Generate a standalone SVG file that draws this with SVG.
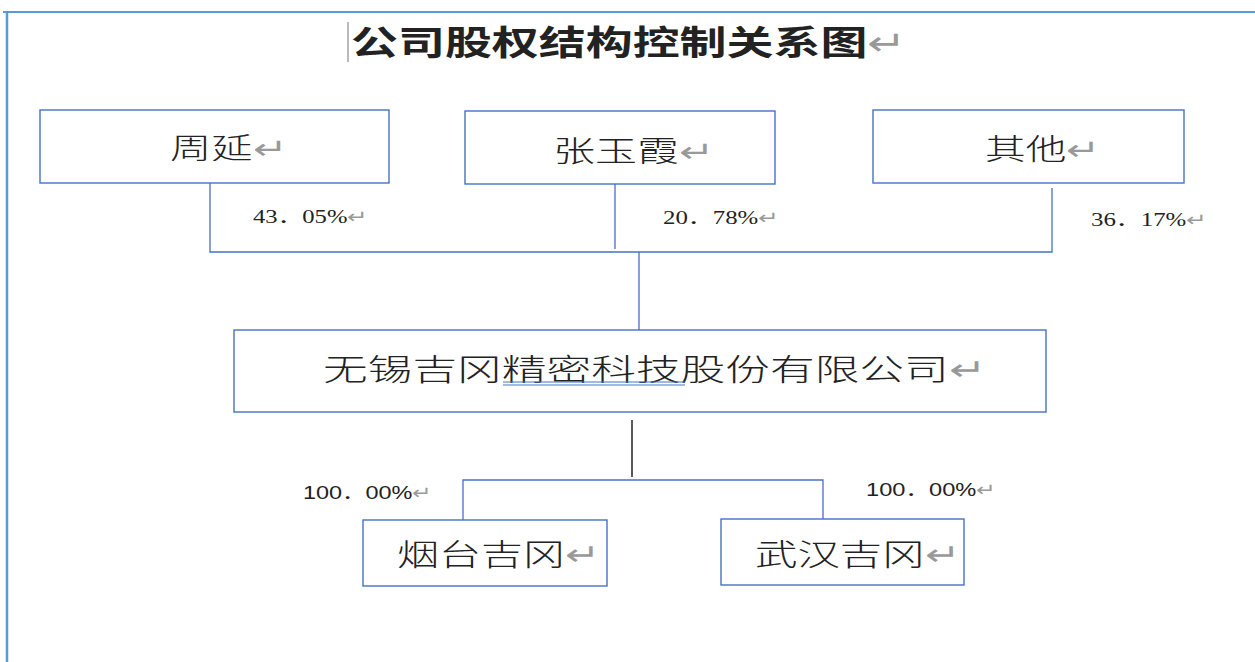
<svg xmlns="http://www.w3.org/2000/svg" width="1255" height="662" viewBox="0 0 1255 662">
<style>
.box{fill:#fff;stroke:#4472C4;stroke-width:1.4}
.ln{fill:none;stroke:#4472C4;stroke-width:1.3}
.cj{font-family:"Noto Sans CJK SC","Noto Sans",sans-serif;fill:#222}
.pc{font-family:"Liberation Serif","Noto Sans CJK SC",serif;fill:#222;font-size:18px}
.pc2{font-family:"Liberation Sans","Noto Sans CJK SC",sans-serif;fill:#222;font-size:18px}
.rt{fill:#999}
</style>
<rect width="1255" height="662" fill="#fff"/>
<g id="frame">
<line x1="3" y1="12" x2="1255" y2="12" stroke="#5B9BD5" stroke-width="2"/>
<line x1="7" y1="12" x2="7" y2="662" stroke="#5B9BD5" stroke-width="2.5"/>
</g>
<g id="title">
<line x1="348" y1="22" x2="348" y2="62" stroke="#777" stroke-width="1"/>
<text class="cj" x="351" y="55" font-size="34" font-weight="700" textLength="555" lengthAdjust="spacingAndGlyphs" fill="#111">公司股权结构控制关系图<tspan class="rt" font-weight="400">↵</tspan></text>
</g>
<g id="connectors">
<polyline class="ln" points="210,183 210,252 1052,252 1052,188"/>
<line class="ln" x1="615" y1="184" x2="615" y2="249"/>
<line class="ln" x1="639" y1="252" x2="639" y2="330"/>
<line x1="632" y1="420" x2="632" y2="477" stroke="#222" stroke-width="1.5"/>
<polyline class="ln" points="463,520 463,480 823,480 823,519"/>
</g>
<g id="labels">
<text class="pc" x="253" y="223" textLength="115" lengthAdjust="spacingAndGlyphs">43．05%<tspan class="rt">↵</tspan></text>
<text class="pc" x="663" y="224" textLength="116" lengthAdjust="spacingAndGlyphs">20．78%<tspan class="rt">↵</tspan></text>
<text class="pc" x="1091" y="226" textLength="116" lengthAdjust="spacingAndGlyphs">36．17%<tspan class="rt">↵</tspan></text>
<text class="pc2" x="303" y="499" textLength="129" lengthAdjust="spacingAndGlyphs">100．00%<tspan class="rt">↵</tspan></text>
<text class="pc2" x="866" y="496" textLength="130" lengthAdjust="spacingAndGlyphs">100．00%<tspan class="rt">↵</tspan></text>
</g>
<g id="node-zhouyan">
<rect class="box" x="40" y="110" width="349" height="73"/>
<text class="cj" x="170" y="159" font-size="29" font-weight="300" textLength="117" lengthAdjust="spacingAndGlyphs">周延<tspan class="rt">↵</tspan></text>
</g>
<g id="node-zhangyuxia">
<rect class="box" x="465" y="111" width="310" height="73"/>
<text class="cj" x="553" y="162" font-size="29" font-weight="300" textLength="161" lengthAdjust="spacingAndGlyphs">张玉霞<tspan class="rt">↵</tspan></text>
</g>
<g id="node-qita">
<rect class="box" x="873" y="110" width="311" height="73"/>
<text class="cj" x="985" y="160" font-size="29" font-weight="300" textLength="115" lengthAdjust="spacingAndGlyphs">其他<tspan class="rt">↵</tspan></text>
</g>
<g id="node-wuxi">
<rect class="box" x="234" y="330" width="812" height="82"/>
<text class="cj" x="323" y="380" font-size="30" font-weight="300" textLength="663" lengthAdjust="spacingAndGlyphs">无锡吉冈精密科技股份有限公司<tspan class="rt">↵</tspan></text>
<line x1="503" y1="382" x2="685" y2="382" stroke="#4472C4" stroke-width="1"/>
<line x1="503" y1="385" x2="685" y2="385" stroke="#4472C4" stroke-width="1"/>
</g>
<g id="node-yantai">
<rect class="box" x="363" y="520" width="244" height="66"/>
<text class="cj" x="397" y="565" font-size="30" font-weight="300" textLength="203" lengthAdjust="spacingAndGlyphs">烟台吉冈<tspan class="rt">↵</tspan></text>
</g>
<g id="node-wuhan">
<rect class="box" x="721" y="519" width="243" height="66"/>
<text class="cj" x="755" y="565" font-size="30" font-weight="300" textLength="205" lengthAdjust="spacingAndGlyphs">武汉吉冈<tspan class="rt">↵</tspan></text>
</g>
</svg>
